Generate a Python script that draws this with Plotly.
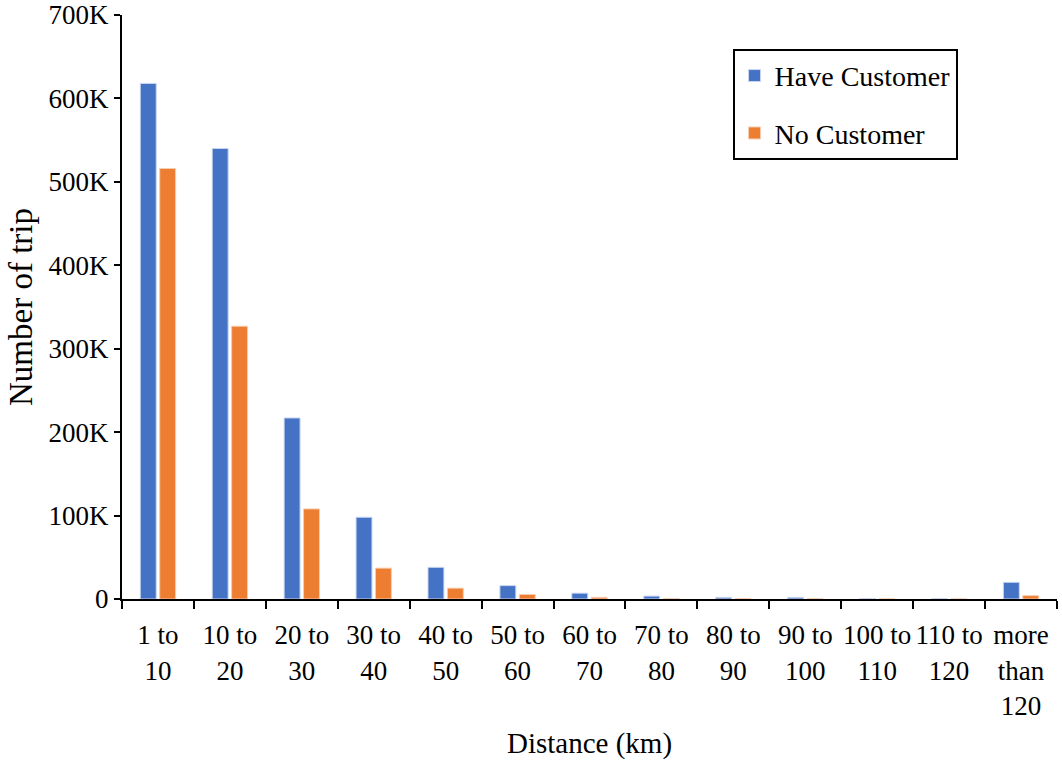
import plotly.graph_objects as go

categories = ["1 to<br>10", "10 to<br>20", "20 to<br>30", "30 to<br>40", "40 to<br>50",
              "50 to<br>60", "60 to<br>70", "70 to<br>80", "80 to<br>90", "90 to<br>100",
              "100 to<br>110", "110 to<br>120", "more<br>than<br>120"]
have_customer = [618000, 540000, 217000, 98000, 38000, 16000, 7000, 3500, 2000, 2000, 500, 300, 20000]
no_customer = [516000, 327000, 108000, 37000, 13000, 5500, 2000, 600, 300, 300, 100, 100, 4000]
y_tickvals = [0, 100000, 200000, 300000, 400000, 500000, 600000, 700000]
y_ticktext = ["0", "100K", "200K", "300K", "400K", "500K", "600K", "700K"]

FONT = "Liberation Serif, Times New Roman, serif"

fig = go.Figure()
fig.add_trace(go.Bar(x=categories, y=have_customer, name="Have Customer",
                     marker=dict(color="#4472C4", line=dict(color="#c9d6f0", width=1)),
                     legendgroup="a"))
fig.add_trace(go.Bar(x=categories, y=no_customer, name="No Customer",
                     marker=dict(color="#ED7D31", line=dict(color="#f7cdb0", width=1)),
                     legendgroup="b"))

fig.update_layout(
    width=1062, height=760,
    margin=dict(l=122, r=5, t=15, b=161),
    paper_bgcolor="white", plot_bgcolor="white",
    font=dict(family=FONT, size=27, color="black"),
    barmode="group", bargap=0.46, bargroupgap=0.18,
    showlegend=True,
    legend=dict(x=0.653, y=0.942, xanchor="left", yanchor="top",
                bordercolor="black", borderwidth=2, bgcolor="white",
                font=dict(family=FONT, size=28, color="black"),
                tracegroupgap=18, traceorder="grouped"),
)
fig.update_xaxes(
    type="category", showline=True, linecolor="black", linewidth=2,
    ticks="outside", tickson="boundaries", ticklen=8, tickwidth=2, tickcolor="black",
    showgrid=False, tickangle=0, ticklabelstandoff=11, automargin=False,
    tickfont=dict(family=FONT, size=27, color="black"),
    title=dict(text="Distance (km)", font=dict(family=FONT, size=29, color="black"), standoff=15),
)
fig.update_yaxes(
    range=[0, 700000], tickvals=y_tickvals, ticktext=y_ticktext,
    showline=True, linecolor="black", linewidth=2,
    ticks="outside", ticklen=6, tickwidth=2, tickcolor="black",
    showgrid=False, zeroline=False, ticklabeloverflow="allow", automargin=False,
    tickfont=dict(family=FONT, size=27, color="black"),
    title=dict(text="Number of trip", font=dict(family=FONT, size=33, color="black"), standoff=6),
)

fig.write_html("out.html", config={"displayModeBar": False},
               post_script="document.body.style.margin='0px';")
